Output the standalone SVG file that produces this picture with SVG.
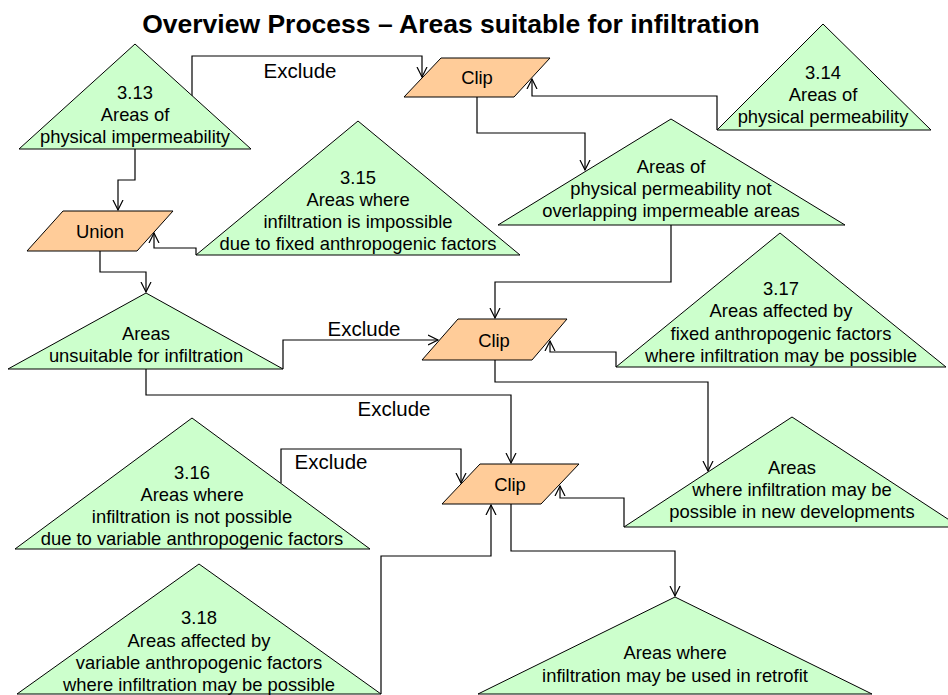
<svg xmlns="http://www.w3.org/2000/svg" width="948" height="695" viewBox="0 0 948 695">
  <style>
    .data { fill: #CCFFCC; stroke: #000; stroke-width: 1; }
    .op { fill: #FFCC99; stroke: #000; stroke-width: 1; }
    .lbl { font-family: "Liberation Sans", Arial, sans-serif; font-size: 18.4px; fill: #000; text-anchor: middle; }
    .edge { font-family: "Liberation Sans", Arial, sans-serif; font-size: 20.5px; fill: #000; text-anchor: middle; }
    .title { font-family: "Liberation Sans", Arial, sans-serif; font-size: 26.5px; font-weight: bold; fill: #000; text-anchor: middle; }
    .conn path { fill: none; stroke: #000; stroke-width: 1.2; marker-end: url(#arr); }
  </style>
  <defs>
    <marker id="arr" markerWidth="12" markerHeight="12" refX="10" refY="6" orient="auto" markerUnits="userSpaceOnUse">
      <path d="M0,1 L10,6 L0,11" fill="none" stroke="#000" stroke-width="1.2"/>
    </marker>
  </defs>
  <rect width="948" height="695" fill="#fff"/>

  <text class="title" x="451" y="33">Overview Process – Areas suitable for infiltration</text>

  <!-- connectors -->
  <g id="connectors" class="conn">
    <path d="M192,96 V56 H422 V77"/>
    <path d="M717,130 V96 H532 V79"/>
    <path d="M477,97 V133 H585 V170"/>
    <path d="M135,149 V180 H118 V210"/>
    <path d="M196,255 V248 H154 V233"/>
    <path d="M100,251 V272 H146 V292"/>
    <path d="M283,369 V340 H438"/>
    <path d="M671,225 V282 H495 V318"/>
    <path d="M616,367 V352 H550 V341"/>
    <path d="M495,360 V382 H708 V471"/>
    <path d="M146,369 V395 H511 V463"/>
    <path d="M281,483 V449 H461 V483"/>
    <path d="M381,694 V556 H491 V505"/>
    <path d="M624,527 V498 H560 V486"/>
    <path d="M511,504 V551 H675 V596"/>
  </g>

  <!-- connector labels -->
  <g id="edge-labels">
    <text class="edge" x="300" y="78">Exclude</text>
    <text class="edge" x="364" y="336">Exclude</text>
    <text class="edge" x="394" y="416">Exclude</text>
    <text class="edge" x="331" y="469">Exclude</text>
  </g>

  <g id="n313">
    <polygon class="data" points="135,44 19,149 251,149"/>
    <text class="lbl" x="135" y="99">3.13</text>
    <text class="lbl" x="135" y="121">Areas of</text>
    <text class="lbl" x="135" y="143">physical impermeability</text>
  </g>

  <g id="clip1">
    <polygon class="op" points="441,58 550,58 514,97 404,97"/>
    <text class="lbl" x="477" y="84">Clip</text>
  </g>

  <g id="n314">
    <polygon class="data" points="823,24 717,130 931,130"/>
    <text class="lbl" x="823" y="79">3.14</text>
    <text class="lbl" x="823" y="101">Areas of</text>
    <text class="lbl" x="823" y="123">physical permeability</text>
  </g>

  <g id="permeable-not-overlapping">
    <polygon class="data" points="671,119 498,225 845,225"/>
    <text class="lbl" x="671" y="173">Areas of</text>
    <text class="lbl" x="671" y="195">physical permeability not</text>
    <text class="lbl" x="671" y="217">overlapping impermeable areas</text>
  </g>

  <g id="n315">
    <polygon class="data" points="358,121 196,255 520,255"/>
    <text class="lbl" x="358" y="184">3.15</text>
    <text class="lbl" x="358" y="206">Areas where</text>
    <text class="lbl" x="358" y="228">infiltration is impossible</text>
    <text class="lbl" x="358" y="250">due to fixed anthropogenic factors</text>
  </g>

  <g id="union">
    <polygon class="op" points="63,211 173,211 137,251 27,251"/>
    <text class="lbl" x="100" y="238">Union</text>
  </g>

  <g id="unsuitable">
    <polygon class="data" points="146,293 8,369 283,369"/>
    <text class="lbl" x="146" y="340">Areas</text>
    <text class="lbl" x="146" y="362">unsuitable for infiltration</text>
  </g>

  <g id="clip2">
    <polygon class="op" points="458,319 567,319 532,360 422,360"/>
    <text class="lbl" x="494" y="347">Clip</text>
  </g>

  <g id="n317">
    <polygon class="data" points="780,233 616,367 946,367"/>
    <text class="lbl" x="781" y="295">3.17</text>
    <text class="lbl" x="781" y="317">Areas affected by</text>
    <text class="lbl" x="781" y="340">fixed anthropogenic factors</text>
    <text class="lbl" x="781" y="362">where infiltration may be possible</text>
  </g>

  <g id="new-developments">
    <polygon class="data" points="792,417 624,527 960,527"/>
    <text class="lbl" x="792" y="474">Areas</text>
    <text class="lbl" x="792" y="496">where infiltration may be</text>
    <text class="lbl" x="792" y="518">possible in new developments</text>
  </g>

  <g id="n316">
    <polygon class="data" points="192,418 15,549 370,549"/>
    <text class="lbl" x="192" y="479">3.16</text>
    <text class="lbl" x="192" y="501">Areas where</text>
    <text class="lbl" x="192" y="523">infiltration is not possible</text>
    <text class="lbl" x="192" y="545">due to variable anthropogenic factors</text>
  </g>

  <g id="clip3">
    <polygon class="op" points="480,464 579,464 541,504 442,504"/>
    <text class="lbl" x="510" y="491">Clip</text>
  </g>

  <g id="n318">
    <polygon class="data" points="199,564 17,694 381,694"/>
    <text class="lbl" x="199" y="624">3.18</text>
    <text class="lbl" x="199" y="647">Areas affected by</text>
    <text class="lbl" x="199" y="669">variable anthropogenic factors</text>
    <text class="lbl" x="199" y="691">where infiltration may be possible</text>
  </g>

  <g id="retrofit">
    <polygon class="data" points="675,597 478,694 872,694"/>
    <text class="lbl" x="675" y="659">Areas where</text>
    <text class="lbl" x="675" y="682">infiltration may be used in retrofit</text>
  </g>
</svg>
